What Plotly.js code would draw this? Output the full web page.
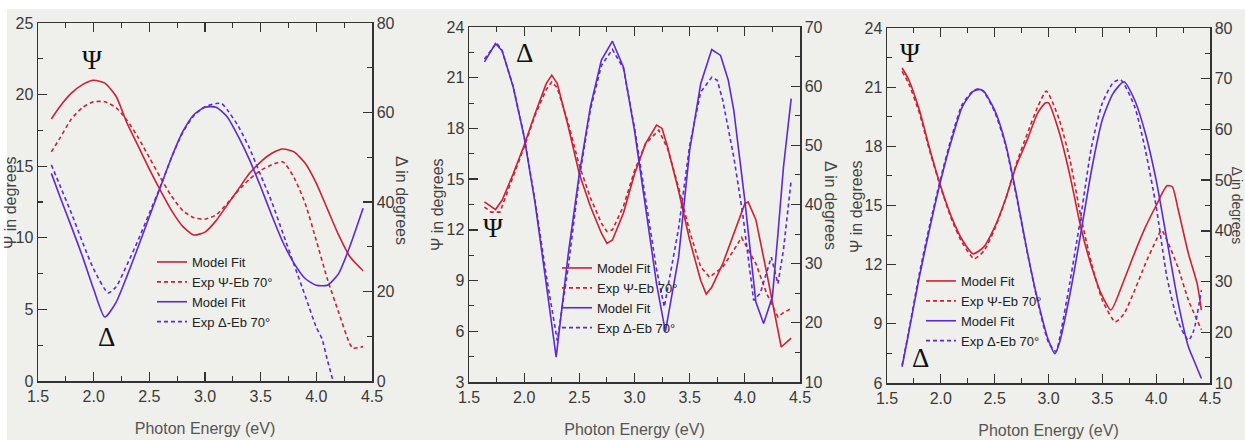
<!DOCTYPE html>
<html>
<head>
<meta charset="utf-8">
<script src="https://cdn.plot.ly/plotly-3.0.1.min.js"></script>
<style>
  html, body { margin: 0; padding: 0; background: #ffffff; }
  #chart { width: 1245px; height: 440px; }
</style>
</head>
<body>
<div id="chart"></div>
<script>
// ---------------- DATA ----------------
// Panel 1
const p1PsiFitE  = [1.62,1.7,1.8,1.9,2.0,2.1,2.2,2.3,2.4,2.5,2.6,2.7,2.8,2.9,3.0,3.1,3.2,3.3,3.4,3.5,3.6,3.7,3.8,3.9,4.0,4.1,4.2,4.3,4.42];
const p1PsiFit   = [18.3,19.2,20.1,20.7,21.0,20.8,19.9,18.0,16.4,14.8,13.3,11.9,10.8,10.2,10.4,11.2,12.3,13.4,14.5,15.3,15.9,16.2,16.0,15.2,13.8,12.0,10.2,8.7,7.7];
const p1PsiExpE  = [1.62,1.7,1.8,1.9,2.0,2.1,2.2,2.3,2.4,2.5,2.6,2.7,2.8,2.9,3.0,3.1,3.2,3.3,3.4,3.5,3.6,3.7,3.8,3.9,4.0,4.1,4.2,4.3,4.33,4.42];
const p1PsiExp   = [16.0,17.0,18.3,19.1,19.5,19.5,19.1,18.2,17.0,15.6,14.2,12.9,11.9,11.4,11.3,11.6,12.4,13.3,14.1,14.7,15.1,15.3,14.2,12.4,9.8,7.1,4.8,2.6,2.3,2.4];
const p1DelFitE  = [1.62,1.7,1.8,1.9,2.0,2.1,2.2,2.3,2.4,2.5,2.6,2.7,2.8,2.9,3.0,3.1,3.2,3.3,3.4,3.5,3.6,3.7,3.8,3.9,4.0,4.1,4.2,4.3,4.42];
const p1DelFit   = [46.4,41.0,34.5,27.8,20.5,14.3,17.5,23.5,30.0,36.7,43.4,50.0,55.7,59.5,61.2,61.2,59.0,54.6,49.4,43.4,37.0,31.0,26.3,22.9,21.4,21.4,24.0,30.0,38.6];
const p1DelExpE  = [1.62,1.7,1.8,1.9,2.0,2.13,2.2,2.3,2.4,2.5,2.6,2.7,2.8,2.9,3.0,3.1,3.15,3.2,3.3,3.4,3.5,3.6,3.7,3.8,3.9,4.0,4.05,4.1,4.15];
const p1DelExp   = [48.3,43.5,37.5,31.0,25.0,19.7,21.0,26.0,31.5,37.5,43.5,50.0,55.5,59.3,61.3,62.0,62.0,60.6,56.9,52.0,46.0,40.0,33.0,26.0,19.0,12.0,9.5,4.6,0.0];

// Panel 2
const p2PsiFitE  = [1.64,1.74,1.8,1.9,2.0,2.1,2.2,2.25,2.3,2.4,2.5,2.6,2.7,2.75,2.8,2.9,3.0,3.1,3.2,3.25,3.3,3.4,3.5,3.6,3.65,3.7,3.8,3.9,4.0,4.03,4.1,4.2,4.3,4.33,4.42];
const p2PsiFit   = [13.65,13.2,13.75,15.3,17.0,18.9,20.65,21.15,20.65,18.1,15.3,13.4,11.8,11.2,11.4,13.0,15.3,17.1,18.2,18.0,16.9,14.3,11.4,9.0,8.2,8.6,10.0,11.8,13.55,13.65,12.6,9.4,6.05,5.07,5.6];
const p2PsiExpE  = [1.64,1.7,1.78,1.8,1.9,2.0,2.1,2.2,2.25,2.3,2.4,2.5,2.6,2.7,2.75,2.8,2.9,3.0,3.1,3.22,3.3,3.4,3.5,3.6,3.68,3.8,3.9,3.97,4.1,4.2,4.3,4.35,4.42];
const p2PsiExp   = [13.35,13.05,13.05,13.4,15.2,16.9,18.8,20.3,20.75,20.4,18.3,15.8,13.9,12.4,11.9,12.0,13.4,15.5,17.1,17.9,16.8,14.5,11.9,9.8,9.2,9.8,10.8,11.55,10.0,8.2,6.85,7.1,7.35];
const p2DelFitE  = [1.64,1.74,1.8,1.9,2.0,2.1,2.2,2.29,2.4,2.5,2.6,2.7,2.8,2.9,3.0,3.1,3.2,3.28,3.4,3.5,3.6,3.7,3.78,3.85,3.9,4.0,4.1,4.17,4.25,4.3,4.35,4.42];
const p2DelFit   = [64.1,67.2,66.0,59.9,51.4,40.1,26.6,14.2,31.7,45.2,56.5,64.4,67.6,63.2,52.5,39.6,26.6,18.5,31.1,49.2,60.4,66.2,65.2,61.0,55.9,40.7,23.5,19.9,24.4,35.0,46.3,57.9];
const p2DelExpE  = [1.64,1.75,1.8,1.9,2.0,2.1,2.2,2.3,2.4,2.5,2.6,2.7,2.8,2.9,3.0,3.1,3.2,3.27,3.4,3.5,3.6,3.7,3.75,3.8,3.9,3.98,4.08,4.14,4.24,4.3,4.35,4.42];
const p2DelExp   = [64.6,67.3,66.0,60.0,51.5,40.5,28.0,17.0,29.5,44.5,56.0,63.5,66.2,63.0,53.0,41.0,29.0,22.7,36.0,50.0,59.0,61.5,61.0,57.6,48.0,38.5,23.8,25.0,31.1,26.6,32.3,44.1];

// Panel 3
const p3PsiFitE  = [1.64,1.7,1.8,1.9,2.0,2.1,2.2,2.3,2.4,2.5,2.6,2.7,2.8,2.9,2.97,3.0,3.1,3.2,3.3,3.4,3.5,3.58,3.7,3.8,3.9,4.0,4.1,4.15,4.2,4.3,4.38,4.42];
const p3PsiFit   = [21.97,21.4,19.85,17.8,15.95,14.4,13.25,12.55,12.9,13.9,15.3,17.0,18.3,19.7,20.2,20.2,18.7,16.5,13.9,11.9,10.4,9.7,11.2,12.6,13.9,15.0,16.0,15.95,14.9,12.55,11.05,9.7];
const p3PsiExpE  = [1.64,1.7,1.8,1.9,2.0,2.1,2.2,2.31,2.4,2.5,2.6,2.7,2.8,2.9,2.98,3.1,3.2,3.3,3.4,3.5,3.62,3.7,3.8,3.9,4.0,4.05,4.1,4.2,4.3,4.42];
const p3PsiExp   = [21.8,21.2,19.7,17.7,15.9,14.3,13.1,12.3,12.7,13.8,15.3,17.1,18.6,20.0,20.8,19.35,17.3,14.45,12.05,10.2,9.1,9.5,10.7,12.05,13.25,13.75,13.25,11.9,10.2,8.7];
const p3DelFitE  = [1.64,1.7,1.8,1.9,2.0,2.1,2.2,2.3,2.36,2.4,2.5,2.6,2.7,2.8,2.9,3.0,3.06,3.1,3.2,3.3,3.4,3.5,3.6,3.7,3.8,3.9,4.0,4.1,4.2,4.3,4.35,4.42];
const p3DelFit   = [13.2,19.7,30.9,40.8,50.0,57.9,64.5,67.5,67.9,67.5,63.8,57.3,47.4,36.2,26.3,18.4,15.8,17.8,27.6,39.5,52.0,61.9,67.1,69.4,65.8,59.2,50.0,38.2,26.3,17.1,14.5,10.9];
const p3DelExpE  = [1.64,1.7,1.8,1.9,2.0,2.1,2.2,2.3,2.36,2.4,2.5,2.6,2.7,2.8,2.9,3.0,3.07,3.1,3.2,3.3,3.4,3.5,3.6,3.67,3.8,3.9,4.0,4.1,4.2,4.3,4.35,4.42];
const p3DelExp   = [13.5,20.0,31.5,41.5,50.5,58.5,65.0,67.6,68.0,67.4,63.5,57.0,47.0,36.0,26.0,18.0,16.2,18.5,30.0,42.8,56.6,65.2,69.2,69.8,64.5,55.9,44.8,30.9,22.3,18.4,20.4,28.3];

// Tick labels / ranges
const xTicks      = [1.5,2.0,2.5,3.0,3.5,4.0,4.5];
const xTickText   = ["1.5","2.0","2.5","3.0","3.5","4.0","4.5"];
const psiRanges   = [[0,25],[3,24],[6,24]];
const psiDticks   = [5,3,3];
const delRanges   = [[0,80],[10,70],[10,80]];
const delDticks   = [20,10,10];
const legendNames = ["Model Fit","Exp \u03A8-Eb 70\u00B0","Model Fit","Exp \u0394-Eb 70\u00B0"];
const xTitle      = "Photon Energy (eV)";
const psiTitle    = "\u03A8 in degrees";
const delTitle    = "\u0394 in degrees";

// ---------------- STYLE / LAYOUT ----------------
const W = 1245, H = 440;
const RED = "#cc2035", BLUE = "#5a2bd4";
const SANS = "Liberation Sans, Arial, sans-serif";
const SERIF = "Liberation Serif, DejaVu Serif, serif";
const AX = "#333333";

// pixel boxes of the three plot areas [left, right, top, bottom]
const boxes = [[38,372,23,381],[469,800,27,382],[887,1210,28,383]];
const panels = [
  {psi:[p1PsiFitE,p1PsiFit,p1PsiExpE,p1PsiExp], del:[p1DelFitE,p1DelFit,p1DelExpE,p1DelExp], shape:"spline"},
  {psi:[p2PsiFitE,p2PsiFit,p2PsiExpE,p2PsiExp], del:[p2DelFitE,p2DelFit,p2DelExpE,p2DelExp], shape:"linear"},
  {psi:[p3PsiFitE,p3PsiFit,p3PsiExpE,p3PsiExp], del:[p3DelFitE,p3DelFit,p3DelExpE,p3DelExp], shape:"spline"}
];
const legendPos = [[152,247],[557,253],[921,266]];
const symbols = [
  [["\u03A8",92,60],["\u0394",106,337]],
  [["\u0394",524,53],["\u03A8",493,228]],
  [["\u03A8",910,53],["\u0394",920,358]]
];
const leftTitlePos  = [[10,203],[438,205],[856,207]];
const rightTitlePos = [[402,201],[830,205],[1236.5,205]];
const rightTitleSize = [16,16,14];

const px = v => v / W, py = v => 1 - v / H;

const traces = [];
const layout = {
  width: W, height: H,
  margin: {l:0, r:0, t:0, b:0},
  paper_bgcolor: "#ffffff",
  plot_bgcolor: "rgba(0,0,0,0)",
  showlegend: true,
  shapes: [{type:"rect", xref:"paper", yref:"paper", x0:px(7), x1:1, y0:0, y1:py(9),
            fillcolor:"#eff0ec", line:{width:0}, layer:"below"}],
  annotations: []
};

panels.forEach((p, i) => {
  const n = i + 1;
  const xa = n === 1 ? "x" : "x" + n;
  const yL = "y" + (2*i + 1 === 1 ? "" : (2*i + 1));
  const yR = "y" + (2*i + 2);
  const legKey = n === 1 ? "legend" : "legend" + n;
  const b = boxes[i];
  const common = {mode:"lines", xaxis:xa, legend:legKey, hoverinfo:"skip"};
  const lineBase = {width:1.6, shape:p.shape, smoothing:0.6};
  traces.push(Object.assign({x:p.psi[0], y:p.psi[1], yaxis:yL, name:legendNames[0],
    line:Object.assign({color:RED}, lineBase)}, common));
  traces.push(Object.assign({x:p.psi[2], y:p.psi[3], yaxis:yL, name:legendNames[1],
    line:Object.assign({color:RED, dash:"4px,3px"}, lineBase)}, common));
  traces.push(Object.assign({x:p.del[0], y:p.del[1], yaxis:yR, name:legendNames[2],
    line:Object.assign({color:BLUE}, lineBase)}, common));
  traces.push(Object.assign({x:p.del[2], y:p.del[3], yaxis:yR, name:legendNames[3],
    line:Object.assign({color:BLUE, dash:"4px,3px"}, lineBase)}, common));

  const xKey = n === 1 ? "xaxis" : "xaxis" + n;
  const yLKey = "yaxis" + (2*i + 1 === 1 ? "" : (2*i + 1));
  const yRKey = "yaxis" + (2*i + 2);
  const tickFont = {family:SANS, size:16, color:"#3a3a3a"};

  layout[xKey] = {
    domain:[px(b[0]), px(b[1])], anchor:yL,
    range:[1.5,4.5], tickvals:xTicks, ticktext:xTickText,
    showline:true, linecolor:AX, linewidth:1.5, mirror:"ticks",
    ticks:"inside", ticklen:9, tickwidth:1.3, tickcolor:AX,
    minor:{dtick:0.25, tick0:1.5, ticks:"inside", ticklen:5, tickwidth:1.1, tickcolor:AX, showgrid:false},
    showgrid:false, zeroline:false, tickfont:tickFont,
    title:{text:xTitle, font:{family:SANS, size:16, color:"#555555"}, standoff:19}
  };
  layout[yLKey] = {
    domain:[py(b[3]), py(b[2])], anchor:xa,
    range:psiRanges[i], dtick:psiDticks[i], tick0:psiRanges[i][0],
    showline:true, linecolor:AX, linewidth:1.5,
    ticks:"inside", ticklen:9, tickwidth:1.3, tickcolor:AX,
    minor:{dtick:psiDticks[i]/2, ticks:"inside", ticklen:5, tickwidth:1.1, tickcolor:AX, showgrid:false},
    showgrid:false, zeroline:false, tickfont:tickFont
  };
  layout[yRKey] = {
    domain:[py(b[3]), py(b[2])], anchor:xa, overlaying:yL, side:"right",
    range:delRanges[i], dtick:delDticks[i], tick0:delRanges[i][0],
    showline:true, linecolor:AX, linewidth:1.5,
    ticks:"inside", ticklen:9, tickwidth:1.3, tickcolor:AX,
    minor:{dtick:delDticks[i]/2, ticks:"inside", ticklen:5, tickwidth:1.1, tickcolor:AX, showgrid:false},
    showgrid:false, zeroline:false, tickfont:tickFont
  };
  layout[legKey] = {
    x:px(legendPos[i][0]), y:py(legendPos[i][1]), xanchor:"left", yanchor:"top",
    bgcolor:"rgba(0,0,0,0)", borderwidth:0,
    font:{family:SANS, size:13, color:"#222222"},
    itemwidth:30, tracegroupgap:0
  };
  symbols[i].forEach(s => layout.annotations.push({
    text:s[0], xref:"paper", yref:"paper", x:px(s[1]), y:py(s[2]),
    xanchor:"center", yanchor:"middle", showarrow:false,
    font:{family:SERIF, size:27, color:"#111111"}
  }));
  layout.annotations.push({
    text:psiTitle, xref:"paper", yref:"paper",
    x:px(leftTitlePos[i][0]), y:py(leftTitlePos[i][1]),
    xanchor:"center", yanchor:"middle", showarrow:false, textangle:-90,
    font:{family:SANS, size:16, color:"#444444"}
  });
  layout.annotations.push({
    text:delTitle, xref:"paper", yref:"paper",
    x:px(rightTitlePos[i][0]), y:py(rightTitlePos[i][1]),
    xanchor:"center", yanchor:"middle", showarrow:false, textangle:90,
    font:{family:SANS, size:rightTitleSize[i], color:"#444444"}
  });
});

Plotly.newPlot("chart", traces, layout, {staticPlot:true, displayModeBar:false});
</script>
</body>
</html>
